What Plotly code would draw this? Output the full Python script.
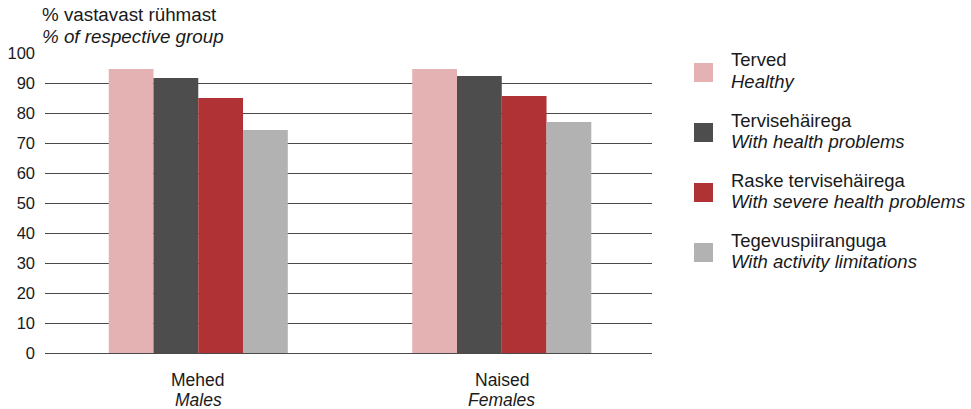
import plotly.graph_objects as go

categories = ["Mehed", "Naised"]
categories_en = ["Males", "Females"]
series_et = ["Terved", "Tervisehäirega", "Raske tervisehäirega", "Tegevuspiiranguga"]
series_en = ["Healthy", "With health problems", "With severe health problems", "With activity limitations"]
healthy = [94.7, 94.7]
health_problems = [91.7, 92.3]
severe = [85.0, 85.7]
activity = [74.3, 77.0]
colors = ["#e4b2b2", "#4d4d4d", "#b03234", "#b2b2b2"]
y_ticks = list(range(0, 101, 10))

values = [healthy, health_problems, severe, activity]
FONT = "Liberation Sans, Arial, sans-serif"
TXT = "#1a1a1a"

fig = go.Figure()
for name, vals, col in zip(series_et, values, colors):
    fig.add_trace(go.Bar(x=categories, y=vals, name=name, marker=dict(color=col, line=dict(width=0)),
                         showlegend=False))

ax0, ax1, ay0, ay1 = 45, 652, 53, 353
pw, ph = ax1 - ax0, ay1 - ay0


def px(x):
    return (x - ax0) / pw


def py(y):
    return (ay1 - y) / ph


annotations = []
# Axis title
annotations.append(dict(xref="paper", yref="paper", x=px(40), y=py(14), xanchor="left", yanchor="middle",
                        text="% vastavast rühmast", showarrow=False, font=dict(family=FONT, size=18.8, color=TXT)))
annotations.append(dict(xref="paper", yref="paper", x=px(40), y=py(36), xanchor="left", yanchor="middle",
                        text="<i>% of respective group</i>", showarrow=False, font=dict(family=FONT, size=18.8, color=TXT)))
# Category labels
for cat, cat_en in zip(categories, categories_en):
    annotations.append(dict(x=cat, xref="x", yref="paper", y=py(380), xanchor="center", yanchor="middle",
                            text=cat, showarrow=False, font=dict(family=FONT, size=17.5, color=TXT)))
    annotations.append(dict(x=cat, xref="x", yref="paper", y=py(399.5), xanchor="center", yanchor="middle",
                            text="<i>" + cat_en + "</i>", showarrow=False, font=dict(family=FONT, size=17.5, color=TXT)))

# Custom legend
shapes = []
for i, (et, en, col) in enumerate(zip(series_et, series_en, colors)):
    top = 63 + 60 * i
    shapes.append(dict(type="rect", xref="paper", yref="paper",
                       x0=px(694), x1=px(713), y0=py(top + 19), y1=py(top),
                       fillcolor=col, line=dict(width=0)))
    annotations.append(dict(xref="paper", yref="paper", x=px(729), y=py(top - 3), xanchor="left", yanchor="middle",
                            text=et, showarrow=False, font=dict(family=FONT, size=18.5, color=TXT)))
    annotations.append(dict(xref="paper", yref="paper", x=px(729), y=py(top + 18), xanchor="left", yanchor="middle",
                            text="<i>" + en + "</i>", showarrow=False, font=dict(family=FONT, size=18.5, color=TXT)))

fig.update_layout(
    width=971, height=409,
    margin=dict(l=ax0, r=971 - ax1, t=ay0, b=409 - ay1, pad=0, autoexpand=False),
    paper_bgcolor="white", plot_bgcolor="white",
    barmode="group", bargap=0.41, bargroupgap=0,
    showlegend=False,
    annotations=annotations,
    shapes=shapes,
    font=dict(family=FONT, size=16, color=TXT),
    xaxis=dict(range=[-0.505, 1.495], showticklabels=False, showgrid=False, zeroline=False, showline=False,
               ticks="", automargin=False),
    yaxis=dict(range=[0, 100], tickvals=y_ticks, showgrid=True, gridcolor="#4a4a4a", gridwidth=1,
               zeroline=True, zerolinecolor="#4a4a4a", zerolinewidth=1, showline=False, ticks="",
               automargin=False, ticklabelstandoff=9, tickfont=dict(family=FONT, size=16.5, color=TXT)),
)

fig.write_html("out.html", config={"displayModeBar": False},
               post_script="document.body.style.margin='0';document.body.style.padding='0';")
